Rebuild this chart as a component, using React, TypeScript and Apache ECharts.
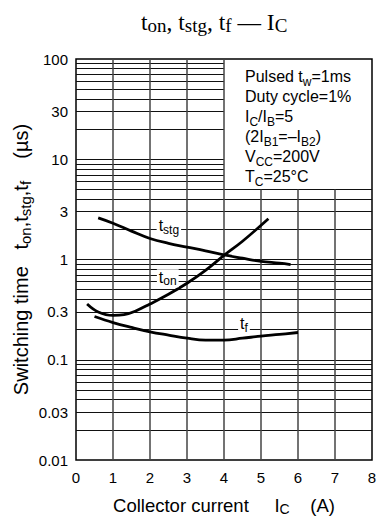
import React, { useEffect, useRef } from 'react';
import * as echarts from 'echarts';

// Switching characteristics: collector current (A) vs time (µs)
const tstgCurrent = [0.6, 1.0, 1.5, 2.0, 2.5, 3.0, 3.5, 4.0, 4.5, 5.0, 5.5, 5.8];
const tstgTime = [2.6, 2.3, 1.92, 1.62, 1.45, 1.33, 1.22, 1.11, 1.03, 0.96, 0.92, 0.89];

const tonCurrent = [0.3, 0.6, 1.0, 1.3, 1.6, 2.0, 2.5, 3.0, 3.5, 4.0, 4.5, 5.2];
const tonTime = [0.36, 0.3, 0.277, 0.282, 0.305, 0.36, 0.45, 0.58, 0.78, 1.1, 1.52, 2.55];

const tfCurrent = [0.5, 1.0, 1.5, 2.0, 2.5, 3.0, 3.5, 4.0, 4.5, 5.0, 5.5, 6.0];
const tfTime = [0.27, 0.235, 0.21, 0.19, 0.176, 0.164, 0.157, 0.157, 0.164, 0.172, 0.179, 0.187];

// Axis ticks
const xTicks = [0, 1, 2, 3, 4, 5, 6, 7, 8];
const yTickLabels = [0.01, 0.03, 0.1, 0.3, 1, 3, 10, 30, 100];
const yDecades = [0.01, 0.1, 1, 10];

// Curve name anchors [current, time]
const labelAnchors = {
  stg: [2.51, 2.12],
  on: [2.48, 0.65],
  f: [4.54, 0.223],
};

// Condition box occupies the upper-right corner of the grid
const boxLeft = 4;
const boxBottom = 5;

const SANS = '"Liberation Sans", Arial, Helvetica, sans-serif';
const SERIF = '"Liberation Serif", "Times New Roman", serif';

const subRich = (size: number, sub: number, lh: number, pad: number, family = SANS) => ({
  a: {
    fontSize: size,
    fontFamily: family,
    fontWeight: 'normal' as const,
    color: '#000',
    lineHeight: lh,
    verticalAlign: 'top' as const,
  },
  s: {
    fontSize: sub,
    fontFamily: family,
    fontWeight: 'normal' as const,
    color: '#000',
    lineHeight: lh - pad,
    padding: [pad, 0, 0, 0],
    verticalAlign: 'bottom' as const,
  },
});

const tickLabel = (v: number) => ({
  show: true,
  position: 'start',
  distance: 8,
  formatter: String(v),
  fontSize: 15,
  fontFamily: SANS,
  color: '#000',
});

function buildGridLines() {
  const lines: any[] = [];
  const hStyle = { color: '#111', width: 1, type: 'solid' };
  const vStyle = { color: '#444', width: 1.5, type: 'solid' };
  const hidden = { color: 'rgba(0,0,0,0)', width: 1, type: 'solid' };
  yDecades.forEach((d) => {
    for (let k = 1; k <= 9; k++) {
      const v = +(k * d).toPrecision(6);
      const labelled = yTickLabels.includes(v);
      const xEnd = v > boxBottom ? boxLeft : 8;
      lines.push([
        {
          coord: [0, v],
          // the bottom value sits on the frame, so only its label is drawn
          lineStyle: v === 0.01 ? hidden : hStyle,
          label: labelled ? tickLabel(v) : { show: false },
        },
        { coord: [xEnd, v] },
      ]);
    }
  });
  // top value sits on the frame as well
  lines.push([
    { coord: [0, 100], lineStyle: hidden, label: tickLabel(100) },
    { coord: [boxLeft, 100] },
  ]);
  xTicks.forEach((x) => {
    if (x === 0 || x === 8) return;
    const yEnd = x > boxLeft ? boxBottom : 100;
    lines.push([
      { coord: [x, 0.01], lineStyle: vStyle },
      { coord: [x, yEnd] },
    ]);
  });
  return lines;
}

function curveLabel(key: 'stg' | 'on' | 'f') {
  return {
    symbol: 'rect',
    symbolSize: 0,
    silent: true,
    z: 6,
    data: [{ coord: labelAnchors[key] }],
    label: {
      show: true,
      position: 'inside',
      formatter: `{a|t}{s|${key}}`,
      backgroundColor: '#fff',
      padding: [0, 2, 0, 2],
      rich: subRich(16, 12, 18, 6),
    },
  };
}

const zip = (xs: number[], ys: number[]) => xs.map((x, i) => [x, ys[i]]);

export default function App() {
  const ref = useRef<HTMLDivElement>(null);

  useEffect(() => {
    document.body.style.margin = '0';
    const chart = echarts.init(ref.current!, null, { renderer: 'svg' });
    const curveStyle = { color: '#000', width: 2.8 };

    chart.setOption({
      animation: false,
      backgroundColor: '#fff',
      title: {
        text: '{a|t}{s|on}{a|, t}{s|stg}{a|, t}{s|f}{a| — I}{s|C}',
        left: 136,
        top: 5,
        textStyle: { rich: subRich(23.5, 19, 25, 6, SERIF) },
      },
      grid: {
        left: 76,
        top: 59,
        width: 296,
        height: 401,
        show: true,
        borderColor: '#000',
        borderWidth: 1.5,
        backgroundColor: 'transparent',
      },
      xAxis: {
        type: 'value',
        min: 0,
        max: 8,
        interval: 1,
        splitLine: { show: false },
        axisLine: { show: false },
        axisTick: { show: false },
        axisLabel: { fontSize: 15, fontFamily: SANS, color: '#000', margin: 10 },
        name: '{a|Collector current     I}{s|C}{a|    (A)}',
        nameLocation: 'middle',
        nameGap: 36,
        nameTextStyle: { rich: subRich(18.5, 14, 20, 6) },
      },
      yAxis: {
        type: 'log',
        logBase: 10,
        min: 0.01,
        max: 100,
        splitLine: { show: false },
        axisLine: { show: false },
        axisTick: { show: false },
        axisLabel: { show: false },
        name: '{a|Switching time   t}{s|on}{a|,t}{s|stg}{a|,t}{s|f}{a|    (µs)}',
        nameLocation: 'middle',
        nameGap: 43,
        nameRotate: 90,
        nameTextStyle: { rich: subRich(20, 15, 22, 6) },
      },
      graphic: [
        {
          type: 'text',
          left: 245,
          top: 68,
          style: {
            text:
              '{a|Pulsed t}{s|w}{a|=1ms}\n{a|Duty cycle=1%}\n{a|I}{s|C}{a|/I}{s|B}{a|=5}\n{a|(2I}{s|B1}{a|=–I}{s|B2}{a|)}\n{a|V}{s|CC}{a|=200V}\n{a|T}{s|C}{a|=25°C}',
            rich: subRich(16, 12, 20, 8),
          },
        },
      ],
      series: [
        {
          type: 'line',
          data: [],
          silent: true,
          markLine: {
            z: 1,
            silent: true,
            symbol: 'none',
            label: { show: false },
            data: buildGridLines(),
          },
        },
        {
          type: 'line',
          name: 'tstg',
          z: 3,
          smooth: 0.4,
          showSymbol: false,
          lineStyle: curveStyle,
          data: zip(tstgCurrent, tstgTime),
          markPoint: curveLabel('stg'),
        },
        {
          type: 'line',
          name: 'ton',
          z: 3,
          smooth: 0.4,
          showSymbol: false,
          lineStyle: curveStyle,
          data: zip(tonCurrent, tonTime),
          markPoint: curveLabel('on'),
        },
        {
          type: 'line',
          name: 'tf',
          z: 3,
          smooth: 0.4,
          showSymbol: false,
          lineStyle: curveStyle,
          data: zip(tfCurrent, tfTime),
          markPoint: curveLabel('f'),
        },
      ],
    });
    return () => chart.dispose();
  }, []);

  return (
    <div
      ref={ref}
      style={{ position: 'absolute', left: 0, top: 0, width: 385, height: 523, background: '#fff' }}
    />
  );
}
